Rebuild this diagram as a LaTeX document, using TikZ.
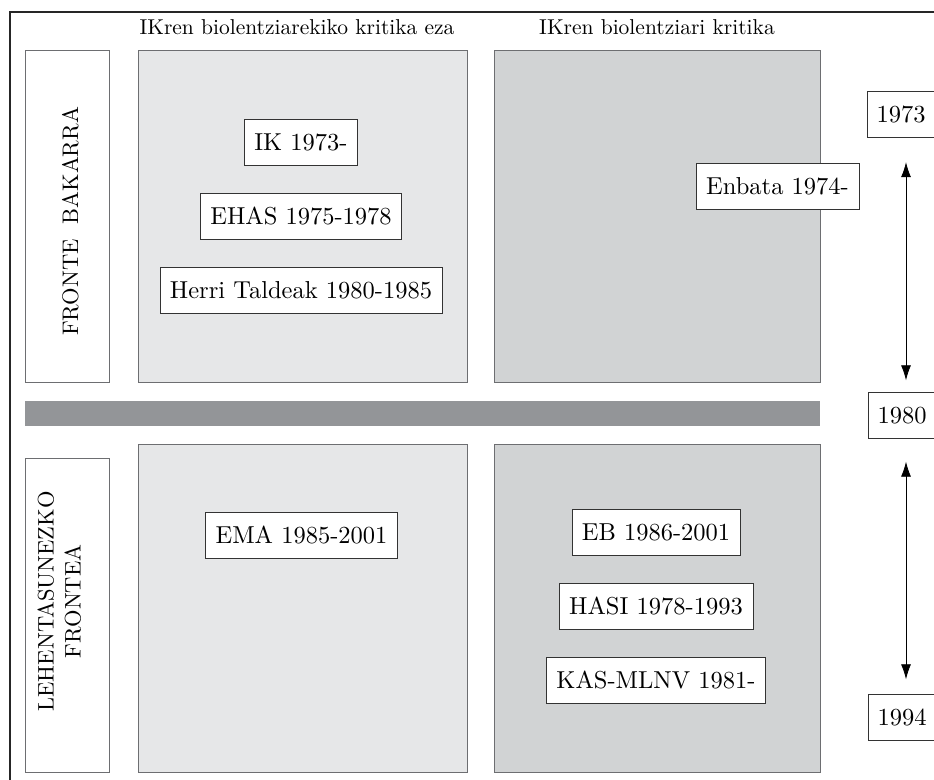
\documentclass[tikz,border=0pt]{standalone}
\usepackage{fontspec}
\setmainfont{lmroman10-regular}[Extension=.otf]
\usetikzlibrary{positioning, arrows, arrows.meta}

\definecolor{softgray}{HTML}{E6E7E8}
\definecolor{midgray}{HTML}{D1D3D4}
\definecolor{bargray}{HTML}{939598}
\definecolor{edgegray}{HTML}{6D6E71}

\tikzset{
    every node/.style={font=\fontsize{24.5}{29}\selectfont},
    head/.style={font=\fontsize{21.5}{26}\selectfont},
    sidetext/.style={rotate=90, align=center, font=\fontsize{22.5}{27}\selectfont},
    field/.style={draw=edgegray, thick, anchor=north west, inner sep=0pt},
    sidebox/.style={draw=edgegray, thick, anchor=north west, inner sep=0pt, minimum width=84pt, minimum height=332pt},
    group/.style={draw=black!80, fill=white, rectangle, inner xsep=10pt, inner ysep=0pt, minimum height=46pt},
    yearbox/.style={draw=black!80, fill=white, rectangle, inner ysep=0pt, minimum width=68pt, minimum height=46pt},
    span/.style={<->, >={Latex[length=15pt, width=10pt]}, thick}
}

\begin{document}
\begin{tikzpicture}[x=1pt, y=-1pt]
    \useasboundingbox (0, 0) rectangle (934, 779);
    \draw [line width=1.6pt, black!85] (10, 12) rectangle (950, 800);

    % column headers
    \node (headA) [head] at (297, 27) {IKren biolentziarekiko kritika eza};
    \node (headB) [head] at (657, 27) {IKren biolentziari kritika};

    % side labels
    \node (sideA) [sidebox] at (25, 50) {};
    \node [sidetext] at ([xshift=3pt, yshift=-5pt]sideA.center) {FRONTE\ \ BAKARRA};
    \node (sideB) [sidebox, minimum height=314pt] at (25, 458) {};
    \node [sidetext] at ([xshift=-8pt, yshift=14pt]sideB.center) {LEHENTASUNEZKO\\FRONTEA};

    % fields
    \node (topL) [field, fill=softgray, minimum width=329pt, minimum height=332pt] at (138, 50) {};
    \node (topR) [field, fill=midgray, minimum width=326pt, minimum height=332pt] at (494, 50) {};
    \node (bar) [anchor=north west, fill=bargray, inner sep=0pt, minimum width=795pt, minimum height=25pt] at (25, 401) {};
    \node (botL) [field, fill=softgray, minimum width=329pt, minimum height=328pt] at (138, 444) {};
    \node (botR) [field, fill=midgray, minimum width=326pt, minimum height=328pt] at (494, 444) {};

    % groups
    \node (IK) [group] at (301, 142) {IK 1973-};
    \node (EHAS) [group, below=28pt of IK] {EHAS 1975-1978};
    \node (HT) [group, below=27pt of EHAS] {Herri Taldeak 1980-1985};
    \node (Enbata) [group] at (777.5, 186) {Enbata 1974-};
    \node (EMA) [group] at (301.5, 535) {EMA 1985-2001};
    \node (EB) [group] at (656, 532.5) {EB 1986-2001};
    \node (HASI) [group, below=27pt of EB] {HASI 1978-1993};
    \node (KAS) [group, below=28pt of HASI] {KAS-MLNV 1981-};

    % time axis
    \node (y73) [yearbox] at (901, 114) {1973};
    \node (y80) [yearbox] at (902, 415.5) {1980};
    \node (y94) [yearbox] at (902, 717.5) {1994};
    \draw [span] ([xshift=5pt, yshift=-25pt]y73.south) -- ([xshift=4pt, yshift=12pt]y80.north);
    \draw [span] ([xshift=4pt, yshift=-23pt]y80.south) -- ([xshift=4pt, yshift=15pt]y94.north);
\end{tikzpicture}
\end{document}
